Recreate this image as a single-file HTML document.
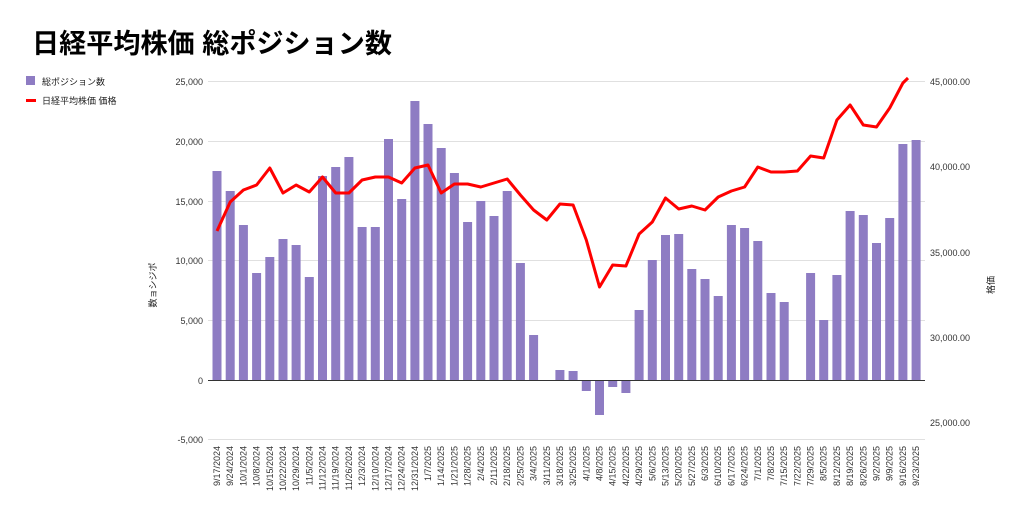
<!DOCTYPE html>
<html><head><meta charset="utf-8"><style>
body{margin:0;background:#fff;width:1024px;height:520px;overflow:hidden;font-family:"Liberation Sans","Noto Sans CJK JP",sans-serif}
</style></head><body>
<svg width="1024" height="520" xmlns="http://www.w3.org/2000/svg" font-family="Liberation Sans, Noto Sans CJK JP, sans-serif">
<text x="32" y="53" font-size="27" font-weight="bold" fill="#000" textLength="360" lengthAdjust="spacingAndGlyphs">日経平均株価 総ポジション数</text>
<rect x="26" y="76" width="9" height="9" fill="#8e7cc3"/>
<text x="42" y="85" font-size="9" fill="#222">総ポジション数</text>
<rect x="26" y="99" width="10" height="3" fill="#f00"/>
<text x="42" y="104" font-size="9" fill="#222">日経平均株価 価格</text>
<g stroke="#e0e0e0" stroke-width="1">
<line x1="208" y1="81.5" x2="925" y2="81.5"/><line x1="208" y1="141.5" x2="925" y2="141.5"/><line x1="208" y1="201.5" x2="925" y2="201.5"/><line x1="208" y1="260.5" x2="925" y2="260.5"/><line x1="208" y1="320.5" x2="925" y2="320.5"/><line x1="208" y1="439.5" x2="925" y2="439.5"/>
</g>
<g font-size="9" fill="#333" text-anchor="end">
<text x="203" y="85">25,000</text><text x="203" y="145">20,000</text><text x="203" y="205">15,000</text><text x="203" y="264">10,000</text><text x="203" y="324">5,000</text><text x="203" y="384">0</text><text x="203" y="443">-5,000</text>
</g>
<g font-size="9" fill="#333">
<text x="930" y="85">45,000.00</text><text x="930" y="170">40,000.00</text><text x="930" y="256">35,000.00</text><text x="930" y="341">30,000.00</text><text x="930" y="426">25,000.00</text>
</g>
<text transform="translate(156,285) rotate(-90)" font-size="9" text-anchor="middle" fill="#222">数ョシジポ</text>
<text transform="translate(994,285) rotate(-90)" font-size="9" text-anchor="middle" fill="#222">格価</text>
<g fill="#8e7cc3">
<rect x="212.5" y="171" width="9" height="209"/><rect x="225.7" y="191" width="9" height="189"/><rect x="238.9" y="225" width="9" height="155"/><rect x="252.1" y="273" width="9" height="107"/><rect x="265.3" y="257" width="9" height="123"/><rect x="278.5" y="239" width="9" height="141"/><rect x="291.6" y="245" width="9" height="135"/><rect x="304.8" y="277" width="9" height="103"/><rect x="318" y="176" width="9" height="204"/><rect x="331.2" y="167" width="9" height="213"/><rect x="344.4" y="157" width="9" height="223"/><rect x="357.6" y="227" width="9" height="153"/><rect x="370.8" y="227" width="9" height="153"/><rect x="384" y="139" width="9" height="241"/><rect x="397.2" y="199" width="9" height="181"/><rect x="410.4" y="101" width="9" height="279"/><rect x="423.5" y="124" width="9" height="256"/><rect x="436.7" y="148" width="9" height="232"/><rect x="449.9" y="173" width="9" height="207"/><rect x="463.1" y="222" width="9" height="158"/><rect x="476.3" y="201" width="9" height="179"/><rect x="489.5" y="216" width="9" height="164"/><rect x="502.7" y="191" width="9" height="189"/><rect x="515.9" y="263" width="9" height="117"/><rect x="529.1" y="335" width="9" height="45"/><rect x="555.4" y="370" width="9" height="10"/><rect x="568.6" y="371" width="9" height="9"/>
<rect x="581.8" y="380" width="9" height="11"/><rect x="595" y="380" width="9" height="35"/><rect x="608.2" y="380" width="9" height="7"/><rect x="621.4" y="380" width="9" height="13"/>
<rect x="634.6" y="310" width="9" height="70"/><rect x="647.8" y="260" width="9" height="120"/><rect x="661" y="235" width="9" height="145"/><rect x="674.2" y="234" width="9" height="146"/><rect x="687.3" y="269" width="9" height="111"/><rect x="700.5" y="279" width="9" height="101"/><rect x="713.7" y="296" width="9" height="84"/><rect x="726.9" y="225" width="9" height="155"/><rect x="740.1" y="228" width="9" height="152"/><rect x="753.3" y="241" width="9" height="139"/><rect x="766.5" y="293" width="9" height="87"/><rect x="779.7" y="302" width="9" height="78"/><rect x="806.1" y="273" width="9" height="107"/><rect x="819.2" y="320" width="9" height="60"/><rect x="832.4" y="275" width="9" height="105"/><rect x="845.6" y="211" width="9" height="169"/><rect x="858.8" y="215" width="9" height="165"/><rect x="872" y="243" width="9" height="137"/><rect x="885.2" y="218" width="9" height="162"/><rect x="898.4" y="144" width="9" height="236"/><rect x="911.6" y="140" width="9" height="240"/>
</g>
<line x1="208" y1="380.5" x2="925" y2="380.5" stroke="#333" stroke-width="1"/>
<polyline fill="none" stroke="#f00" stroke-width="3" stroke-linejoin="round" points="217,231 230.2,202 243.4,190 256.6,185 269.8,168 283,193 296.1,185 309.3,192 322.5,177 335.7,193 348.9,193 362.1,180 375.3,177 388.5,177 401.7,183 414.9,168 428,165 441.2,193 454.4,184 467.6,184 480.8,187 494,183 507.2,179 520.4,195 533.6,210 546.8,220 559.9,204 573.1,205 586.3,240 599.5,287 612.7,265 625.9,266 639.1,234 652.3,222 665.5,198 678.7,209 691.8,206 705,210 718.2,197 731.4,191 744.6,187 757.8,167 771,172 784.2,172 797.4,171 810.6,156 823.7,158 836.9,120 850.1,105 863.3,125 876.5,127 889.7,108 902.9,83 908,78"/>
<g font-size="9" fill="#333" text-anchor="end">
<text transform="translate(220,446) rotate(-90)">9/17/2024</text><text transform="translate(233.2,446) rotate(-90)">9/24/2024</text><text transform="translate(246.4,446) rotate(-90)">10/1/2024</text><text transform="translate(259.6,446) rotate(-90)">10/8/2024</text><text transform="translate(272.8,446) rotate(-90)">10/15/2024</text><text transform="translate(286,446) rotate(-90)">10/22/2024</text><text transform="translate(299.1,446) rotate(-90)">10/29/2024</text><text transform="translate(312.3,446) rotate(-90)">11/5/2024</text><text transform="translate(325.5,446) rotate(-90)">11/12/2024</text><text transform="translate(338.7,446) rotate(-90)">11/19/2024</text><text transform="translate(351.9,446) rotate(-90)">11/26/2024</text><text transform="translate(365.1,446) rotate(-90)">12/3/2024</text><text transform="translate(378.3,446) rotate(-90)">12/10/2024</text><text transform="translate(391.5,446) rotate(-90)">12/17/2024</text><text transform="translate(404.7,446) rotate(-90)">12/24/2024</text><text transform="translate(417.9,446) rotate(-90)">12/31/2024</text><text transform="translate(431,446) rotate(-90)">1/7/2025</text><text transform="translate(444.2,446) rotate(-90)">1/14/2025</text><text transform="translate(457.4,446) rotate(-90)">1/21/2025</text><text transform="translate(470.6,446) rotate(-90)">1/28/2025</text><text transform="translate(483.8,446) rotate(-90)">2/4/2025</text><text transform="translate(497,446) rotate(-90)">2/11/2025</text><text transform="translate(510.2,446) rotate(-90)">2/18/2025</text><text transform="translate(523.4,446) rotate(-90)">2/25/2025</text><text transform="translate(536.6,446) rotate(-90)">3/4/2025</text><text transform="translate(549.8,446) rotate(-90)">3/11/2025</text><text transform="translate(562.9,446) rotate(-90)">3/18/2025</text><text transform="translate(576.1,446) rotate(-90)">3/25/2025</text><text transform="translate(589.3,446) rotate(-90)">4/1/2025</text><text transform="translate(602.5,446) rotate(-90)">4/8/2025</text><text transform="translate(615.7,446) rotate(-90)">4/15/2025</text><text transform="translate(628.9,446) rotate(-90)">4/22/2025</text><text transform="translate(642.1,446) rotate(-90)">4/29/2025</text><text transform="translate(655.3,446) rotate(-90)">5/6/2025</text><text transform="translate(668.5,446) rotate(-90)">5/13/2025</text><text transform="translate(681.7,446) rotate(-90)">5/20/2025</text><text transform="translate(694.8,446) rotate(-90)">5/27/2025</text><text transform="translate(708,446) rotate(-90)">6/3/2025</text><text transform="translate(721.2,446) rotate(-90)">6/10/2025</text><text transform="translate(734.4,446) rotate(-90)">6/17/2025</text><text transform="translate(747.6,446) rotate(-90)">6/24/2025</text><text transform="translate(760.8,446) rotate(-90)">7/1/2025</text><text transform="translate(774,446) rotate(-90)">7/8/2025</text><text transform="translate(787.2,446) rotate(-90)">7/15/2025</text><text transform="translate(800.4,446) rotate(-90)">7/22/2025</text><text transform="translate(813.6,446) rotate(-90)">7/29/2025</text><text transform="translate(826.7,446) rotate(-90)">8/5/2025</text><text transform="translate(839.9,446) rotate(-90)">8/12/2025</text><text transform="translate(853.1,446) rotate(-90)">8/19/2025</text><text transform="translate(866.3,446) rotate(-90)">8/26/2025</text><text transform="translate(879.5,446) rotate(-90)">9/2/2025</text><text transform="translate(892.7,446) rotate(-90)">9/9/2025</text><text transform="translate(905.9,446) rotate(-90)">9/16/2025</text><text transform="translate(919.1,446) rotate(-90)">9/23/2025</text>
</g>
</svg>
</body></html>
